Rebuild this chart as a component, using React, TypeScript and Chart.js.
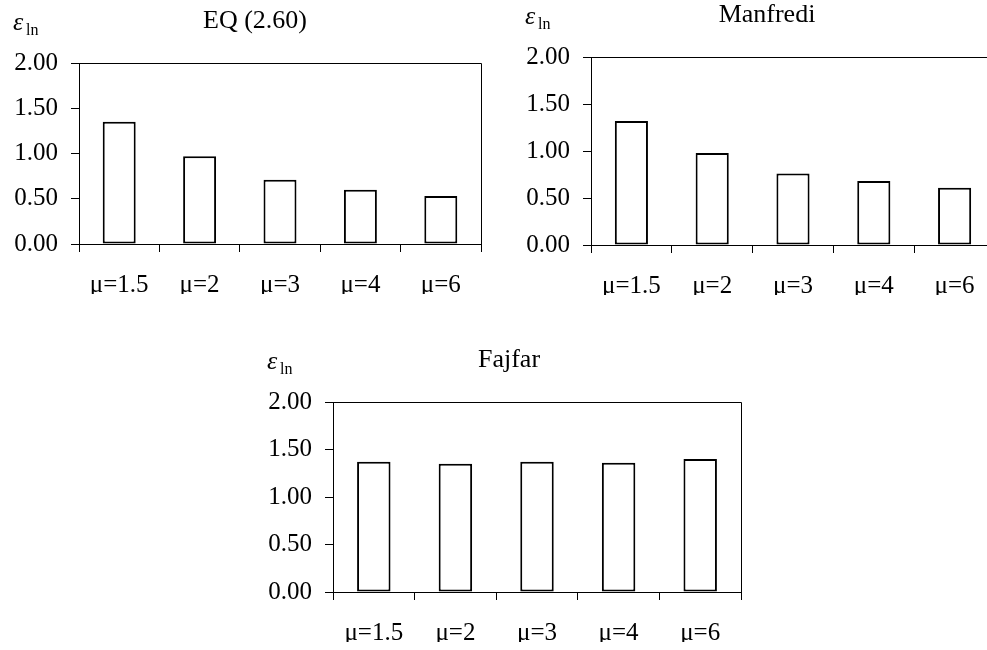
import React, { useEffect, useRef } from 'react';
import { Chart, registerables } from 'chart.js';

Chart.register(...registerables);

const categories = ['μ=1.5', 'μ=2', 'μ=3', 'μ=4', 'μ=6'];
const eqValues = [1.35, 0.97, 0.71, 0.6, 0.53];
const manfrediValues = [1.32, 0.98, 0.76, 0.68, 0.61];
const fajfarValues = [1.37, 1.35, 1.37, 1.36, 1.4];
const yTicks = [0, 0.5, 1, 1.5, 2];
const titles = ['EQ (2.60)', 'Manfredi', 'Fajfar'];
const yAxisSymbol = 'ε';
const yAxisSubscript = 'ln';

const FONT = '"Liberation Serif", "Times New Roman", serif';

const decorPlugin = {
  id: 'decor',
  afterDraw(chart: any, _args: any, opts: any) {
    const { ctx, chartArea: a } = chart;
    ctx.save();
    ctx.strokeStyle = '#000';
    ctx.lineWidth = 1;
    ctx.beginPath();
    ctx.moveTo(a.left, a.top + 0.5);
    ctx.lineTo(a.right + 0.5, a.top + 0.5);
    ctx.lineTo(a.right + 0.5, a.bottom);
    ctx.stroke();
    ctx.fillStyle = '#000';
    ctx.textBaseline = 'alphabetic';
    ctx.textAlign = 'center';
    ctx.font = `26px ${FONT}`;
    ctx.fillText(opts.title, a.left + 176, a.top - 35);
    ctx.textAlign = 'left';
    ctx.font = `italic 26px ${FONT}`;
    ctx.fillText(yAxisSymbol, a.left - 66, a.top - 33);
    ctx.font = `16px ${FONT}`;
    ctx.fillText(yAxisSubscript, a.left - 53, a.top - 28);
    ctx.restore();
  },
};

type Props = {
  values: number[];
  title: string;
  left: number;
  top: number;
  width: number;
  height: number;
  yWidth: number;
  padding: { top: number; right: number; bottom: number; left: number };
};

function BarPanel({ values, title, left, top, width, height, yWidth, padding }: Props) {
  const ref = useRef<HTMLCanvasElement>(null);
  useEffect(() => {
    if (!ref.current) return;
    const chart = new Chart(ref.current, {
      type: 'bar',
      data: {
        labels: categories,
        datasets: [
          {
            data: values,
            backgroundColor: '#ffffff',
            borderColor: '#000000',
            borderWidth: 2,
            borderSkipped: false,
            barPercentage: 0.41,
            categoryPercentage: 1,
          },
        ],
      },
      options: {
        responsive: false,
        animation: false,
        devicePixelRatio: 1,
        layout: { padding },
        plugins: {
          legend: { display: false },
          tooltip: { enabled: false },
          decor: { title },
        } as any,
        scales: {
          x: {
            grid: {
              display: true,
              drawOnChartArea: false,
              offset: true,
              tickLength: 8,
              color: '#000',
              lineWidth: 1,
            },
            border: { display: true, color: '#000', width: 1 },
            ticks: {
              color: '#000',
              font: { family: FONT, size: 25 },
              padding: 18,
              maxRotation: 0,
              autoSkip: false,
            },
            afterFit: (s: any) => {
              s.height = 50;
            },
          },
          y: {
            min: 0,
            max: 2,
            afterBuildTicks: (s: any) => {
              s.ticks = yTicks.map((v) => ({ value: v }));
            },
            grid: {
              display: true,
              drawOnChartArea: false,
              tickLength: 8,
              color: '#000',
              lineWidth: 1,
            },
            border: { display: true, color: '#000', width: 1 },
            ticks: {
              color: '#000',
              font: { family: FONT, size: 25 },
              padding: 13,
              callback: (v: any) => Number(v).toFixed(2),
            },
            afterFit: (s: any) => {
              s.width = yWidth;
            },
          },
        },
      } as any,
      plugins: [decorPlugin as any],
    });
    return () => chart.destroy();
  }, []);
  return (
    <canvas
      ref={ref}
      width={width}
      height={height}
      style={{ position: 'absolute', left, top, width, height }}
    />
  );
}

export default function App() {
  return (
    <div
      style={{
        position: 'absolute',
        left: 0,
        top: 0,
        width: 987,
        height: 650,
        overflow: 'hidden',
        background: '#fff',
      }}
    >
      <BarPanel
        values={eqValues}
        title={titles[0]}
        left={0}
        top={0}
        width={500}
        height={310}
        yWidth={79}
        padding={{ top: 63, right: 19, bottom: 16, left: 0 }}
      />
      <BarPanel
        values={manfrediValues}
        title={titles[1]}
        left={490}
        top={0}
        width={520}
        height={310}
        yWidth={101}
        padding={{ top: 57, right: 15, bottom: 15, left: 0 }}
      />
      <BarPanel
        values={fajfarValues}
        title={titles[2]}
        left={240}
        top={320}
        width={520}
        height={330}
        yWidth={93}
        padding={{ top: 82, right: 19, bottom: 8, left: 0 }}
      />
    </div>
  );
}
